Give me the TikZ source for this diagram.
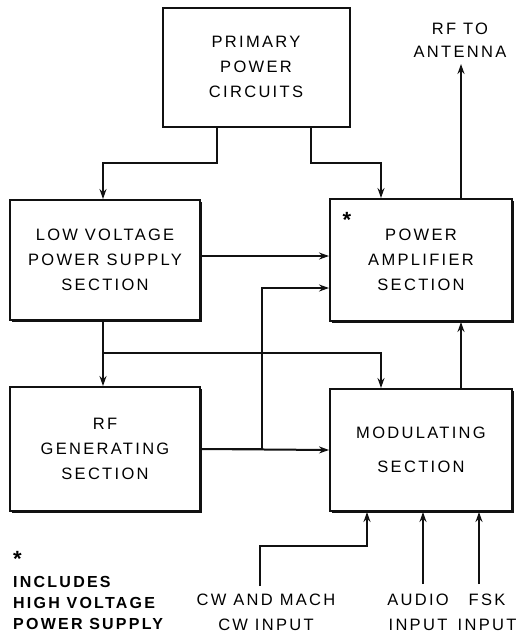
\documentclass[tikz,border=0pt]{standalone}
\usepackage{fontspec}
\setmainfont[LetterSpace=14]{Liberation Sans}
\usepackage{tikz}
\usetikzlibrary{arrows.meta,positioning,shadows}
\definecolor{Ink}{HTML}{111111}

\begin{document}
\begin{tikzpicture}[
    x=1pt, y=-1pt,
    font=\fontsize{16.5}{25}\selectfont,
    block/.style={draw=Ink, line width=2pt, fill=white, align=center, inner sep=0pt, drop shadow={shadow xshift=1.8pt, shadow yshift=-1.8pt, opacity=1, fill=Ink}},
    arr/.style={-{Stealth[length=10pt, width=7pt]}, line width=2pt, draw=Ink},
    lbl/.style={align=center, inner sep=0pt}
]
\useasboundingbox (0,0) rectangle (518,638);
\node[block, minimum width=187pt, minimum height=119pt] (prim) at (256,67) {PRIMARY\\POWER\\CIRCUITS};
\node[block, minimum width=190pt, minimum height=120pt] (lv) at (105,260) {LOW VOLTAGE\\POWER SUPPLY\\SECTION};
\node[block, minimum width=182pt, minimum height=122pt, right=128pt of lv] (pa) {POWER\\AMPLIFIER\\SECTION};
\node[block, minimum width=190pt, minimum height=124pt, below=65pt of lv] (rf) {RF\\GENERATING\\SECTION};
\node[block, minimum width=182pt, minimum height=122pt, below=66pt of pa] (mod) {MODULATING\\[9pt]SECTION};
\node[lbl, font=\bfseries\fontsize{22}{24}\selectfont] (pastar) at ([xshift=18pt, yshift=-22pt]pa.north west) {*};
\node[lbl] (antlbl) at (460,40) {RF TO\\[-2pt]ANTENNA};
\node[lbl] (cwlbl) at (266,612) {CW AND MACH\\CW INPUT};
\node[lbl] (audlbl) at (418,612) {AUDIO\\INPUT};
\node[lbl] (fsklbl) at (487,612) {FSK\\INPUT};
\node[lbl, anchor=north west, align=left, font=\bfseries\fontsize{16}{21}\selectfont] (note) at (13,551) {{\fontsize{22}{21}\selectfont *}\\INCLUDES\\HIGH VOLTAGE\\POWER SUPPLY};
% free ends and bends
\coordinate (ant) at (461,64);
\coordinate (tap) at (262,288);
\coordinate (split) at (103,353);
\coordinate (cwin) at (260,586);
\coordinate (audin) at (423,584);
\coordinate (fskin) at (479,584);
\draw[arr] ([xshift=-39pt]prim.south) -- ++(0,35) -| ([xshift=-2pt]lv.north);
\draw[arr] ([xshift=55pt]prim.south) -- ++(0,35) -| ([xshift=-40pt]pa.north);
\draw[arr] (pa.north -| ant) -- (ant);
\draw[arr] ([yshift=4pt]lv.east) -- ([yshift=4pt]lv.east -| pa.west);
\draw[arr] (rf.east) -| (tap) -- (tap -| pa.west);
\draw[arr] (rf.east) -- (mod.west);
\draw[arr] ([xshift=-2pt]lv.south) -- ([xshift=-2pt]rf.north);
\draw[arr] (split) -| ([xshift=-40pt]mod.north);
\draw[arr] (mod.north -| ant) -- (pa.south -| ant);
\draw[arr] (cwin) -- ++(0,-40) -| ([xshift=-54pt]mod.south);
\draw[arr] (audin) -- (audin |- mod.south);
\draw[arr] (fskin) -- (fskin |- mod.south);
\end{tikzpicture}
\end{document}
